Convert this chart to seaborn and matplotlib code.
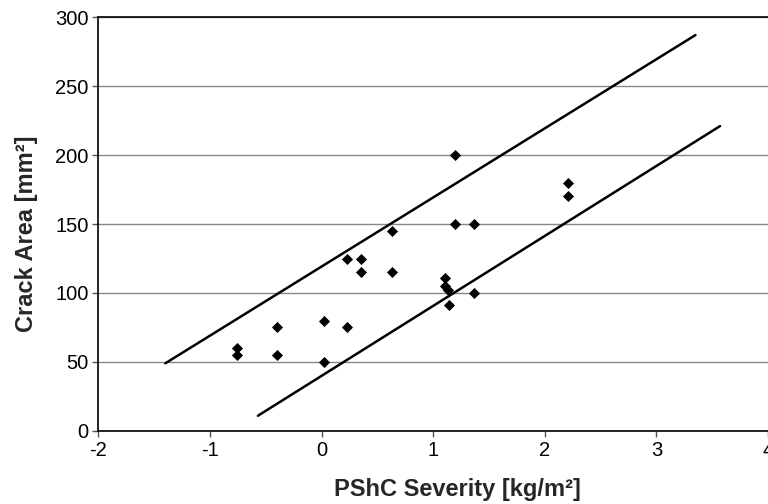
import matplotlib
matplotlib.use("Agg")
import matplotlib.pyplot as plt
import seaborn as sns
import pandas as pd

severity = [-0.76, -0.76, -0.40, -0.40, 0.02, 0.02, 0.23, 0.23, 0.35, 0.35,
            0.63, 0.63, 1.20, 1.20, 1.37, 1.37, 1.11, 1.11, 1.13, 1.14,
            2.21, 2.21]
crack_area = [60, 55, 75, 55, 80, 50, 75, 125, 125, 115,
              145, 115, 200, 150, 150, 100, 111, 105, 102, 91,
              180, 170]

upper_x = [-1.40, 3.35]
upper_y = [49, 287]
lower_x = [-0.57, 3.57]
lower_y = [11, 221]

x_ticks = [-2, -1, 0, 1, 2, 3, 4]
y_ticks = [0, 50, 100, 150, 200, 250, 300]

sns.set_theme(style="white")
plt.rcParams['font.family'] = ['Liberation Sans', 'DejaVu Sans']

fig = plt.figure(figsize=(7.68, 5.04), dpi=100)
ax = fig.add_axes([0.128, 0.145, 0.872, 0.821])

df = pd.DataFrame({"x": severity, "y": crack_area})
sns.scatterplot(data=df, x="x", y="y", marker="D", s=32, color="black",
                edgecolor="black", linewidth=0, ax=ax, zorder=3)
sns.lineplot(x=upper_x, y=upper_y, color="black", linewidth=1.8, ax=ax, zorder=2)
sns.lineplot(x=lower_x, y=lower_y, color="black", linewidth=1.8, ax=ax, zorder=2)

ax.set_xlim(-2, 4)
ax.set_ylim(0, 300)
ax.set_xticks(x_ticks)
ax.set_yticks(y_ticks)
ax.set_xticklabels([str(t) for t in x_ticks], fontsize=14.5)
ax.set_yticklabels([str(t) for t in y_ticks], fontsize=14.5)
ax.yaxis.grid(True, color="#888888", linewidth=1.0)
ax.xaxis.grid(False)
ax.set_axisbelow(True)

for s in ["left", "bottom", "top"]:
    ax.spines[s].set_visible(True)
    ax.spines[s].set_color("black")
    ax.spines[s].set_linewidth(1.2)
ax.spines["right"].set_visible(False)

ax.tick_params(axis="both", which="both", direction="out", length=4,
               width=1, color="#555555", bottom=True, left=True,
               labelcolor="black", pad=3)

ax.set_xlabel("PShC Severity [kg/m²]", fontsize=17, fontweight="bold")
ax.set_ylabel("Crack Area [mm²]", fontsize=17, fontweight="bold")
ax.xaxis.set_label_coords(0.536, -0.113)
ax.yaxis.set_label_coords(-0.09, 0.477)

fig.savefig("out.png", dpi=100)
